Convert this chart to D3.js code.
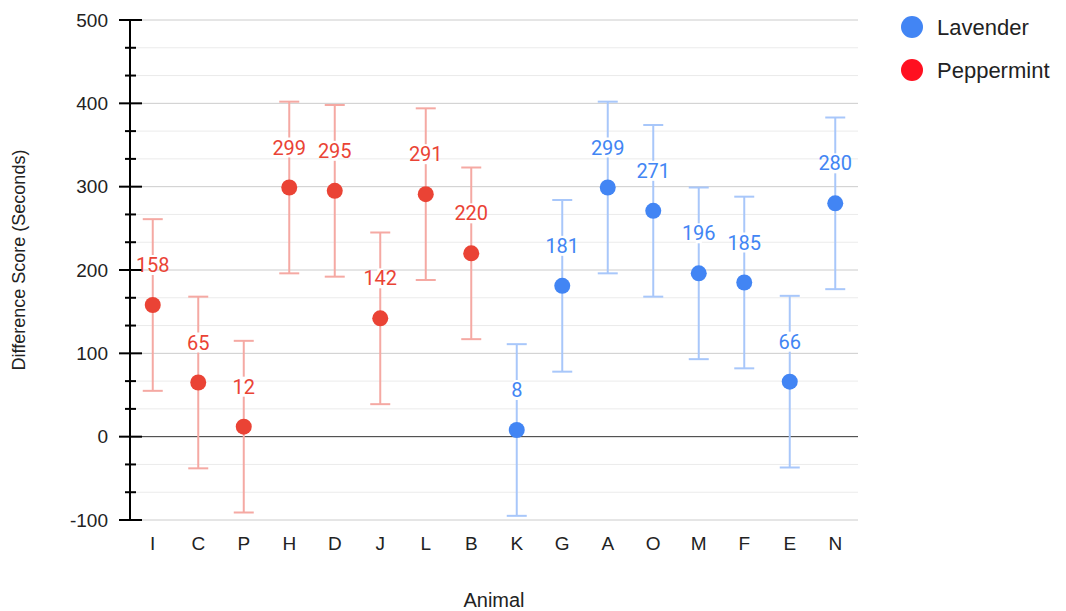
<!DOCTYPE html>
<html>
<head>
<meta charset="utf-8">
<script src="https://cdnjs.cloudflare.com/ajax/libs/d3/7.8.5/d3.min.js"></script>
<style>
  body { margin: 0; background: #fff; }
  text { font-family: Arial, "Liberation Sans", sans-serif; }
</style>
</head>
<body>
<svg id="chart" width="1066" height="611"></svg>
<script>
// category order on the x axis
var animals = ['I','C','P','H','D','J','L','B','K','G','A','O','M','F','E','N'];

// Peppermint series
var pepAnimals = ['I','C','P','H','D','J','L','B'];
var pepScores  = [158, 65, 12, 299, 295, 142, 291, 220];
var pepLow     = [55, -38, -91, 196, 192, 39, 188, 117];
var pepHigh    = [261, 168, 115, 402, 398, 245, 394, 323];

// Lavender series
var lavAnimals = ['K','G','A','O','M','F','E','N'];
var lavScores  = [8, 181, 299, 271, 196, 185, 66, 280];
var lavLow     = [-95, 78, 196, 168, 93, 82, -37, 177];
var lavHigh    = [111, 284, 402, 374, 299, 288, 169, 383];

var yTicks = [-100, 0, 100, 200, 300, 400, 500];

var svg = d3.select('#chart');
var plotL = 130, plotR = 858, plotT = 20, plotB = 520;

var x = d3.scaleBand().domain(animals).range([plotL, plotR]);
var y = d3.scaleLinear().domain([-100, 500]).range([plotB, plotT]);

// minor gridlines, 3 steps between majors
var minor = [];
for (var i = 0; i < yTicks.length - 1; i++) {
  minor.push(yTicks[i] + 100/3, yTicks[i] + 200/3);
}

var grid = svg.append('g');
grid.selectAll('line.minor').data(minor).enter().append('line')
  .attr('x1', plotL).attr('x2', plotR)
  .attr('y1', d => y(d)).attr('y2', d => y(d))
  .attr('stroke', '#ebebeb').attr('stroke-width', 1);
grid.selectAll('line.major').data(yTicks).enter().append('line')
  .attr('x1', plotL).attr('x2', plotR)
  .attr('y1', d => y(d)).attr('y2', d => y(d))
  .attr('stroke', d => d == 0 ? '#333' : '#ccc').attr('stroke-width', 1);

// y axis with major + minor ticks
var axis = svg.append('g');
axis.append('line')
  .attr('x1', plotL).attr('x2', plotL).attr('y1', plotT).attr('y2', plotB)
  .attr('stroke', '#000').attr('stroke-width', 2);
axis.selectAll('line.mt').data(yTicks).enter().append('line')
  .attr('x1', plotL - 11).attr('x2', plotL + 12)
  .attr('y1', d => y(d)).attr('y2', d => y(d))
  .attr('stroke', '#000').attr('stroke-width', 2);
axis.selectAll('line.nt').data(minor).enter().append('line')
  .attr('x1', plotL - 5).attr('x2', plotL + 6)
  .attr('y1', d => y(d)).attr('y2', d => y(d))
  .attr('stroke', '#000').attr('stroke-width', 2);
axis.selectAll('text').data(yTicks).enter().append('text')
  .attr('x', 108).attr('y', d => y(d)).attr('dy', '0.35em')
  .attr('text-anchor', 'end').attr('font-size', 19).attr('fill', '#222')
  .text(d => d);

// x labels
svg.append('g').selectAll('text').data(animals).enter().append('text')
  .attr('x', d => x(d) + x.bandwidth()/2).attr('y', 543).attr('dy', '0.35em')
  .attr('text-anchor', 'middle').attr('font-size', 19).attr('fill', '#222')
  .text(d => d);

svg.append('text').attr('x', (plotL + plotR)/2).attr('y', 600).attr('dy', '0.35em')
  .attr('text-anchor', 'middle').attr('font-size', 20).attr('fill', '#222')
  .text('Animal');
svg.append('text').attr('transform', 'translate(19,' + 260 + ') rotate(-90)').attr('dy', '0.35em')
  .attr('text-anchor', 'middle').attr('font-size', 18).attr('fill', '#222')
  .text('Difference Score (Seconds)');

function drawSeries(names, scores, lo, hi, dot, bar) {
  var rows = names.map((n, i) => ({n: n, v: scores[i], lo: lo[i], hi: hi[i]}));
  var g = svg.append('g');
  var cx = d => x(d.n) + x.bandwidth()/2;
  g.selectAll('line.v').data(rows).enter().append('line')
    .attr('x1', cx).attr('x2', cx)
    .attr('y1', d => y(d.lo)).attr('y2', d => y(d.hi))
    .attr('stroke', bar).attr('stroke-width', 2);
  g.selectAll('line.t').data(rows).enter().append('line')
    .attr('x1', d => cx(d) - 10).attr('x2', d => cx(d) + 10)
    .attr('y1', d => y(d.hi)).attr('y2', d => y(d.hi))
    .attr('stroke', bar).attr('stroke-width', 2);
  g.selectAll('line.b').data(rows).enter().append('line')
    .attr('x1', d => cx(d) - 10).attr('x2', d => cx(d) + 10)
    .attr('y1', d => y(d.lo)).attr('y2', d => y(d.lo))
    .attr('stroke', bar).attr('stroke-width', 2);
  // label sits on a white patch over the error bar
  g.selectAll('rect').data(rows).enter().append('rect')
    .attr('x', d => cx(d) - 3).attr('y', d => y(d.v) - 50)
    .attr('width', 6).attr('height', 20).attr('fill', '#fff');
  g.selectAll('circle').data(rows).enter().append('circle')
    .attr('cx', cx).attr('cy', d => y(d.v)).attr('r', 8)
    .attr('fill', dot);
  g.selectAll('text').data(rows).enter().append('text')
    .attr('x', cx).attr('y', d => y(d.v) - 40).attr('dy', '0.35em')
    .attr('text-anchor', 'middle').attr('font-size', 20)
    .style('font-family', 'Roboto, Arial, sans-serif')
    .attr('fill', dot).text(d => d.v);
}

drawSeries(pepAnimals, pepScores, pepLow, pepHigh, '#ea4335', '#f5a9a3');
drawSeries(lavAnimals, lavScores, lavLow, lavHigh, '#4285f4', '#a8c7fa');

// legend
var legend = svg.append('g');
var legendItems = ['Lavender', 'Peppermint'];
var legendColors = ['#4285f4', '#ff1020'];
legend.selectAll('circle').data(legendItems).enter().append('circle')
  .attr('cx', 912).attr('cy', (d, i) => 27 + i*43).attr('r', 11)
  .attr('fill', (d, i) => legendColors[i]);
legend.selectAll('text').data(legendItems).enter().append('text')
  .attr('x', 937).attr('y', (d, i) => 27 + i*43).attr('dy', '0.35em')
  .attr('font-size', 22).attr('fill', '#222').text(d => d);
</script>
</body>
</html>
